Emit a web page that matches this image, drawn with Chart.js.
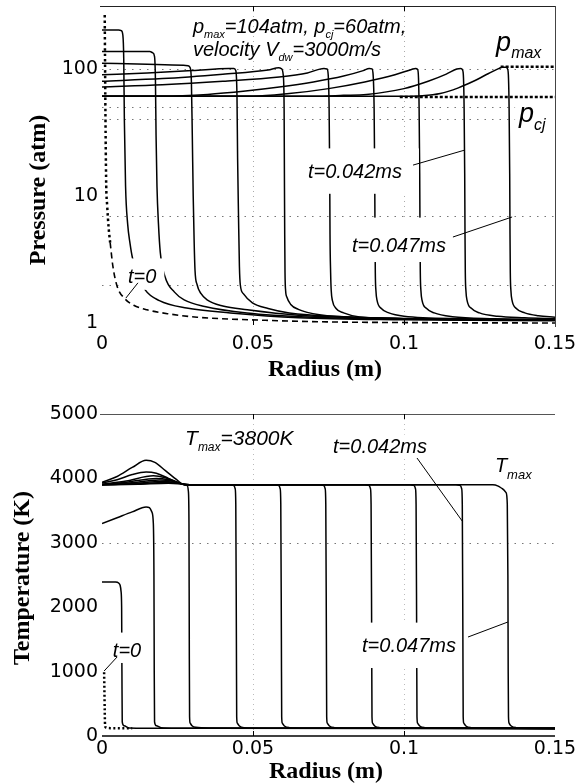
<!DOCTYPE html>
<html>
<head>
<meta charset="utf-8">
<script src="https://cdn.jsdelivr.net/npm/chart.js@4.4.1/dist/chart.umd.min.js"></script>
<style>
html,body{margin:0;padding:0;background:#fff;}
body{width:584px;height:784px;position:relative;overflow:hidden;}
canvas{position:absolute;left:0;}
#c1{top:0;}
#c2{top:390px;}
</style>
</head>
<body>
<canvas id="c1" width="584" height="390"></canvas>
<canvas id="c2" width="584" height="394"></canvas>
<script>
// ---------- axes ----------
const radiusTicks = [0, 0.05, 0.1, 0.15];
const pressureTicks = [1, 10, 100];
const temperatureTicks = [0, 1000, 2000, 3000, 4000, 5000];
const pressureGridLines = [2, 7, 40, 50, 100];
const temperatureGridLines = [3000];
const radiusGridLines = [0.05, 0.1];

// ---------- pressure (atm) vs radius (m) ----------
const pressureT0Dotted = [[0.0009,266],[0.001,120],[0.0012,30],[0.0014,12],[0.0017,8.5],[0.0022,5.6],[0.0027,4.3]];
const pressureT0Dashed = [[0.0027,4.3],[0.0036,2.8],[0.005,1.95],[0.0076,1.55],[0.0105,1.38],[0.0149,1.27],[0.022,1.18],[0.0315,1.11],[0.054,1.05],[0.075,1.02],[0.11,1.005],[0.15,1.0]];
const p01 = [[0,203],[0.0055,203],[0.0064,200],[0.0069,185],[0.0072,120],[0.0074,40],[0.0078,12],[0.0085,6],[0.0093,4.2],[0.0101,3.25],[0.0123,2.3],[0.0143,1.82],[0.019,1.5],[0.028,1.31],[0.0425,1.2],[0.065,1.1],[0.1,1.06],[0.15,1.04]];
const p02 = [[0,137],[0.0158,137],[0.0168,134],[0.0174,125],[0.0177,80],[0.0179,30],[0.0182,12],[0.0187,6],[0.0193,3.6],[0.0209,2.3],[0.024,1.75],[0.0272,1.52],[0.034,1.35],[0.048,1.2],[0.07,1.11],[0.1,1.07],[0.15,1.05]];
const p03 = [[0,111],[0.015,109],[0.027,107],[0.0285,106],[0.0292,102],[0.0296,80],[0.0299,30],[0.0302,10],[0.0305,4.5],[0.0308,2.6],[0.0315,2.0],[0.0328,1.7],[0.0348,1.52],[0.04,1.36],[0.0481,1.27],[0.065,1.15],[0.1,1.08],[0.15,1.05]];
const p04 = [[0,90],[0.015,93],[0.03,97],[0.042,101],[0.0437,101],[0.0443,97],[0.0447,60],[0.0449,20],[0.0452,7],[0.0455,2.8],[0.0458,2.0],[0.0468,1.7],[0.0498,1.44],[0.055,1.3],[0.062,1.2],[0.08,1.12],[0.11,1.07],[0.15,1.05]];
const p05 = [[0,80],[0.02,84],[0.04,91],[0.055,98],[0.0585,102],[0.0595,100],[0.06,90],[0.0603,50],[0.0604,15],[0.0605,5],[0.0606,2.5],[0.0608,1.8],[0.0612,1.6],[0.0625,1.4],[0.065,1.28],[0.072,1.16],[0.09,1.1],[0.12,1.07],[0.15,1.06]];
const p06 = [[0,72],[0.02,75],[0.04,80],[0.0587,86.5],[0.068,93],[0.0735,101],[0.0745,100],[0.0749,90],[0.0752,50],[0.0754,15],[0.0755,5],[0.0757,2.5],[0.0759,1.8],[0.0763,1.5],[0.0775,1.3],[0.08,1.2],[0.0853,1.115],[0.1,1.08],[0.15,1.06]];
const p07 = [[0,61],[0.02,61],[0.035,63],[0.0475,67],[0.0587,72],[0.07,79],[0.08,88],[0.0865,97],[0.0885,101],[0.0894,100],[0.0898,88],[0.0901,50],[0.0903,15],[0.0904,5],[0.0905,2.5],[0.0907,1.8],[0.0911,1.5],[0.0925,1.3],[0.095,1.2],[0.1,1.13],[0.12,1.08],[0.15,1.06]];
const p08 = [[0,61],[0.05,61],[0.062,64],[0.075,70],[0.087,79],[0.097,90],[0.1025,99],[0.1038,101],[0.1045,99],[0.1048,85],[0.105,50],[0.1052,15],[0.1053,5],[0.1054,2.5],[0.1056,1.8],[0.106,1.5],[0.1075,1.3],[0.11,1.2],[0.116,1.12],[0.13,1.08],[0.15,1.06]];
const p09 = [[0,61],[0.07,61],[0.08,62],[0.0876,63],[0.1,70],[0.108,80],[0.114,91],[0.1175,100],[0.1188,101],[0.1194,98],[0.1197,85],[0.1199,50],[0.1201,15],[0.1202,5],[0.1203,2.5],[0.1205,1.8],[0.1209,1.5],[0.1224,1.3],[0.125,1.2],[0.131,1.13],[0.14,1.1],[0.15,1.08]];
const p10 = [[0,61],[0.1,61],[0.106,61.5],[0.112,64],[0.118,71],[0.123,80],[0.128,92],[0.1315,101],[0.1325,103],[0.1337,103],[0.1343,100],[0.1346,85],[0.1348,50],[0.135,15],[0.1351,5],[0.1352,2.5],[0.1354,1.8],[0.1358,1.5],[0.1372,1.3],[0.14,1.2],[0.1445,1.14],[0.15,1.11]];
const pressureMaxLine = [[0.132,104],[0.15,104]];
const pressureCjLine = [[0.0986,60],[0.15,60]];

// ---------- temperature (K) vs radius (m) ----------
const temperatureT0Dotted = [[0.0007,990],[0.0008,700],[0.0009,400],[0.001,180],[0.0012,135],[0.003,122],[0.01,120]];
const t01 = [[0,2390],[0.0045,2390],[0.0055,2375],[0.006,2340],[0.0063,2250],[0.0065,2000],[0.0066,1000],[0.0067,220],[0.0073,160],[0.009,126],[0.015,122],[0.03,120],[0.15,118]];
const t02 = [[0,3300],[0.005,3390],[0.01,3480],[0.0146,3556],[0.0157,3545],[0.0165,3480],[0.017,3300],[0.0172,2500],[0.0173,1000],[0.0174,220],[0.018,160],[0.0195,130],[0.025,122],[0.05,120],[0.15,118]];
const t03 = [[0,3940],[0.005,4030],[0.01,4170],[0.0146,4280],[0.0175,4250],[0.021,4120],[0.025,3970],[0.0272,3900],[0.0282,3890],[0.0286,3800],[0.0288,3300],[0.0289,1500],[0.029,300],[0.0292,200],[0.0298,160],[0.031,135],[0.036,124],[0.06,120],[0.15,118]];
const t04 = [[0,3930],[0.005,3980],[0.01,4060],[0.0146,4100],[0.018,4080],[0.022,4000],[0.026,3920],[0.029,3900],[0.042,3900],[0.0436,3890],[0.0441,3840],[0.0443,3600],[0.0445,1500],[0.0446,300],[0.0448,200],[0.0455,155],[0.047,130],[0.052,122],[0.08,120],[0.15,118]];
const t05 = [[0,3910],[0.008,3960],[0.017,4040],[0.021,4010],[0.025,3940],[0.028,3900],[0.057,3900],[0.0585,3890],[0.059,3840],[0.0592,3600],[0.0594,1500],[0.0595,300],[0.0597,200],[0.0604,155],[0.062,130],[0.068,122],[0.1,120],[0.15,118]];
const t06 = [[0,3905],[0.008,3940],[0.018,4000],[0.022,3980],[0.026,3920],[0.028,3900],[0.072,3900],[0.0734,3890],[0.0739,3840],[0.0741,3600],[0.0743,1500],[0.0744,300],[0.0746,200],[0.0753,155],[0.0769,130],[0.083,122],[0.11,120],[0.15,118]];
const t07 = [[0,3900],[0.009,3930],[0.019,3975],[0.023,3960],[0.026,3920],[0.028,3900],[0.087,3900],[0.0884,3890],[0.0889,3840],[0.0891,3600],[0.0893,1500],[0.0894,300],[0.0896,200],[0.0903,155],[0.0919,130],[0.098,122],[0.12,120],[0.15,118]];
const t08 = [[0,3900],[0.01,3920],[0.02,3950],[0.024,3940],[0.027,3910],[0.029,3900],[0.102,3900],[0.1033,3890],[0.1038,3840],[0.104,3600],[0.1042,1500],[0.1043,300],[0.1045,200],[0.1052,155],[0.1068,130],[0.113,122],[0.13,120],[0.15,118]];
const t09 = [[0,3900],[0.011,3915],[0.021,3935],[0.025,3925],[0.028,3905],[0.03,3900],[0.1172,3900],[0.1186,3890],[0.1191,3840],[0.1193,3600],[0.1195,1500],[0.1196,300],[0.1198,200],[0.1205,155],[0.1221,130],[0.128,122],[0.15,120]];
const t10 = [[0,3900],[0.012,3910],[0.022,3925],[0.026,3915],[0.029,3903],[0.031,3900],[0.1294,3900],[0.1312,3880],[0.1326,3840],[0.1338,3780],[0.1342,3600],[0.1344,2500],[0.1345,1000],[0.1346,300],[0.1348,200],[0.1355,155],[0.1371,130],[0.143,122],[0.15,120]];

// ---------- annotations (text, anchored in data units) ----------
const pressureNotes = [
  {r:0.0301, v:192,   parts:[['p',20,0],['max',11,5],['=104atm, ',20,0],['p',20,0],['cj',11,5],['=60atm,',20,0]]},
  {r:0.0301, v:126.6, parts:[['velocity V',20,0],['dw',11,5],['=3000m/s',20,0]]},
  {r:0.1305, v:138.6, parts:[['p',27,0],['max',16,7]]},
  {r:0.1381, v:38.3,  parts:[['p',27,0],['cj',16,8]], box:[4,12,-1,15]},
  {r:0.0682, v:13.9,  parts:[['t=0.042ms',20,0]], box:[3,17,15,16]},
  {r:0.0828, v:3.62,  parts:[['t=0.047ms',20,0]], box:[7,18,20,10]},
  {r:0.0086, v:2.07,  parts:[['t=0',20,0]], box:[4,8,10,7]}
];
const pressureLeaders = [
  [[0.1030,17.5],[0.1202,23.0]],
  [[0.1162,4.75],[0.1358,6.83]],
  [[0.0119,2.07],[0.0079,1.57]]
];
const temperatureNotes = [
  {r:0.0275, v:4519, parts:[['T',21,0],['max',12,6],['=3800K',21,0]]},
  {r:0.0765, v:4394, parts:[['t=0.042ms',20,0]], box:[3,3,4,4]},
  {r:0.1301, v:4099, parts:[['T',20,0],['max',13,7]]},
  {r:0.0036, v:1227, parts:[['t=0',20,0]], box:[3,5,10,6]},
  {r:0.0861, v:1304, parts:[['t=0.047ms',20,0]], box:[4,6,15,16]}
];
const temperatureLeaders = [
  [[0.1043,4317],[0.1195,3323]],
  [[0.1212,1537],[0.1344,1770]],
  [[0.005,1227],[0.0007,1009]]
];

// ---------- drawing helpers ----------
const noteFont = '"Liberation Sans", Arial, sans-serif';
function partsWidth(ctx, parts){
  let w = 0;
  for (const [t,s] of parts){ ctx.font = `italic ${s}px ${noteFont}`; w += ctx.measureText(t).width; }
  return w;
}
function drawParts(ctx, x, y, parts){
  let cx = x;
  for (const [t,s,dy] of parts){
    ctx.font = `italic ${s}px ${noteFont}`;
    ctx.fillText(t, cx, y+dy);
    cx += ctx.measureText(t).width;
  }
}
function decoPlugin(cfg){
  return {
    id: 'deco',
    beforeDatasetsDraw(chart){
      const {ctx, chartArea:a, scales:{x,y}} = chart;
      ctx.save();
      ctx.lineWidth = 1;
      ctx.strokeStyle = cfg.hGridColor; ctx.setLineDash(cfg.hGridDash);
      for (const v of cfg.hGrid){
        const py = Math.round(y.getPixelForValue(v)) + 0.5;
        ctx.beginPath(); ctx.moveTo(a.left, py); ctx.lineTo(a.right, py); ctx.stroke();
      }
      ctx.strokeStyle = cfg.vGridColor; ctx.setLineDash(cfg.vGridDash);
      for (const v of radiusGridLines){
        const px = Math.round(x.getPixelForValue(v)) + 0.5;
        ctx.beginPath(); ctx.moveTo(px, a.top); ctx.lineTo(px, a.bottom); ctx.stroke();
      }
      ctx.restore();
    },
    afterDatasetsDraw(chart){
      const {ctx, chartArea:a, scales:{x,y}} = chart;
      ctx.save();
      ctx.textBaseline = 'alphabetic';
      ctx.textAlign = 'left';
      ctx.fillStyle = '#fff';
      for (const n of cfg.notes){
        if (!n.box) continue;
        const px = x.getPixelForValue(n.r), py = y.getPixelForValue(n.v);
        const w = partsWidth(ctx, n.parts);
        const asc = 0.72 * Math.max(...n.parts.map(p=>p[1]));
        const [l,r,t,b] = n.box;
        ctx.fillRect(px-l, py-asc-t, w+l+r, asc+t+b);
      }
      ctx.fillStyle = '#000';
      for (const n of cfg.notes){
        drawParts(ctx, x.getPixelForValue(n.r), y.getPixelForValue(n.v), n.parts);
      }
      ctx.strokeStyle = '#000'; ctx.lineWidth = 1; ctx.setLineDash([]);
      for (const L of cfg.leaders){
        ctx.beginPath();
        ctx.moveTo(x.getPixelForValue(L[0][0]), y.getPixelForValue(L[0][1]));
        ctx.lineTo(x.getPixelForValue(L[1][0]), y.getPixelForValue(L[1][1]));
        ctx.stroke();
      }
      for (const f of cfg.frame){
        ctx.strokeStyle = f.color; ctx.lineWidth = f.width;
        ctx.beginPath();
        if (f.side === 'top'){ ctx.moveTo(a.left-2, a.top+0.5); ctx.lineTo(a.right, a.top+0.5); }
        if (f.side === 'bottom'){ ctx.moveTo(a.left, a.bottom); ctx.lineTo(a.right, a.bottom); }
        if (f.side === 'right'){ ctx.moveTo(a.right+0.5, a.top); ctx.lineTo(a.right+0.5, a.bottom+2); }
        ctx.stroke();
      }
      ctx.strokeStyle = '#000'; ctx.lineWidth = 1;
      for (const v of radiusGridLines){
        const px = Math.round(x.getPixelForValue(v)) + 0.5;
        ctx.beginPath(); ctx.moveTo(px, a.top); ctx.lineTo(px, a.top+5); ctx.stroke();
        ctx.beginPath(); ctx.moveTo(px, a.bottom); ctx.lineTo(px, a.bottom-5); ctx.stroke();
      }
      ctx.fillStyle = '#000';
      ctx.font = 'bold 24px "Liberation Serif", "Times New Roman", serif';
      ctx.textAlign = 'center'; ctx.textBaseline = 'middle';
      ctx.fillText(cfg.xTitle.text, cfg.xTitle.x, cfg.xTitle.y);
      ctx.translate(cfg.yTitle.x, cfg.yTitle.y);
      ctx.rotate(-Math.PI/2);
      ctx.fillText(cfg.yTitle.text, 0, 0);
      ctx.restore();
    }
  };
}
function lineDs(data, style){
  return Object.assign({data, borderColor:'#000', borderWidth:1.5, pointRadius:0, pointHoverRadius:0,
    fill:false, cubicInterpolationMode:'monotone'}, style || {});
}
const tickFont = {family:'"DejaVu Sans", sans-serif', size:19};
function xScale(height, pad){
  return {type:'linear', min:0, max:0.15,
    afterBuildTicks:s=>{ s.ticks = radiusTicks.map(v=>({value:v})); },
    ticks:{font:tickFont, color:'#000', padding:pad, maxRotation:0, autoSkip:false, callback:v=>String(v)},
    grid:{display:false, drawTicks:false}, border:{display:false},
    afterFit:s=>{ s.height = height; s.paddingLeft = 0; s.paddingRight = 0; }};
}
function yScale(type, min, max, ticks){
  return {type, min, max,
    afterBuildTicks:s=>{ s.ticks = ticks.map(v=>({value:v})); },
    ticks:{font:tickFont, color:'#000', padding:4, autoSkip:false, callback:v=>String(v)},
    grid:{display:false, drawTicks:false}, border:{display:false},
    afterFit:s=>{ s.width = 102; s.paddingTop = 0; s.paddingBottom = 0; }};
}

// ---------- top chart: pressure ----------
new Chart(document.getElementById('c1'), {
  type:'line',
  data:{datasets:[
    lineDs(pressureT0Dotted, {borderWidth:2.5, borderDash:[2.5,3]}),
    lineDs(pressureT0Dashed, {borderWidth:1.6, borderDash:[6,4]}),
    ...[p01,p02,p03,p04,p05,p06,p07,p08,p09,p10].map(d=>lineDs(d)),
    lineDs(pressureMaxLine, {borderWidth:2.5, borderDash:[3,2], cubicInterpolationMode:'default', tension:0}),
    lineDs(pressureCjLine, {borderWidth:2.5, borderDash:[3,2], cubicInterpolationMode:'default', tension:0})
  ]},
  options:{
    responsive:false, animation:false, events:[],
    layout:{padding:{top:6, right:29, left:0, bottom:0}},
    plugins:{legend:{display:false}, tooltip:{enabled:false}},
    scales:{ x:xScale(65, 8), y:yScale('logarithmic', 0.964, 313, pressureTicks) }
  },
  plugins:[decoPlugin({
    hGrid:pressureGridLines, hGridColor:'#777', hGridDash:[1.5,6],
    vGridColor:'#aaa', vGridDash:[1,4],
    notes:pressureNotes, leaders:pressureLeaders,
    frame:[{side:'top', color:'#222', width:1},{side:'right', color:'#444', width:1}],
    xTitle:{text:'Radius (m)', x:325, y:370},
    yTitle:{text:'Pressure (atm)', x:39, y:190}
  })]
});

// ---------- bottom chart: temperature ----------
new Chart(document.getElementById('c2'), {
  type:'line',
  data:{datasets:[
    lineDs(temperatureT0Dotted, {borderWidth:2.5, borderDash:[2,2.5]}),
    ...[t01,t02,t03,t04,t05,t06,t07,t08,t09,t10].map(d=>lineDs(d))
  ]},
  options:{
    responsive:false, animation:false, events:[],
    layout:{padding:{top:24, right:29, left:0, bottom:0}},
    plugins:{legend:{display:false}, tooltip:{enabled:false}},
    scales:{ x:xScale(48, 2), y:yScale('linear', 0, 5000, temperatureTicks) }
  },
  plugins:[decoPlugin({
    hGrid:temperatureGridLines, hGridColor:'#777', hGridDash:[1.5,6],
    vGridColor:'#bbb', vGridDash:[1,4],
    notes:temperatureNotes, leaders:temperatureLeaders,
    frame:[{side:'top', color:'#555', width:1},{side:'bottom', color:'#000', width:1.5}],
    xTitle:{text:'Radius (m)', x:326, y:382},
    yTitle:{text:'Temperature (K)', x:23, y:188}
  })]
});
</script>
</body>
</html>
